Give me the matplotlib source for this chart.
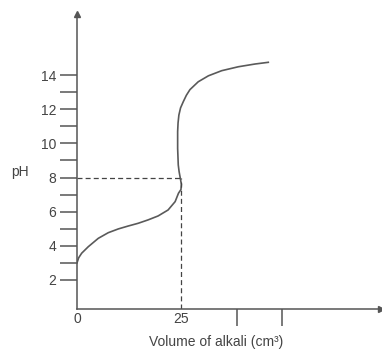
import matplotlib
matplotlib.use("Agg")
import matplotlib.pyplot as plt

plt.rcParams['font.family'] = ['Liberation Sans', 'DejaVu Sans']

# Titration curve (volume in cm3, pH)
volume = [0, 0.4, 1.13, 2.72, 5.12, 7.52, 9.93, 12.3, 14.7, 17.1, 19.5, 21.9,
          23.6, 24.4, 25.0, 25.1, 24.85, 24.55, 24.35, 24.2, 24.2, 24.3, 24.5,
          24.9, 25.55, 26.3, 27.16, 29.15, 31.6, 34.8, 38.8, 42.8, 46.0]
ph = [3.0, 3.3, 3.57, 3.95, 4.44, 4.77, 4.99, 5.16, 5.32, 5.52, 5.75, 6.1,
      6.59, 7.08, 7.3, 7.6, 7.95, 8.35, 8.74, 9.71, 10.69, 11.2, 11.66,
      12.08, 12.44, 12.82, 13.15, 13.61, 13.96, 14.26, 14.49, 14.65, 14.75]

eq_volume = 25
eq_ph = 7.95

y_ticks = [2, 3, 4, 5, 6, 7, 8, 9, 10, 11, 12, 13, 14]
y_labels = ['2', '', '4', '', '6', '', '8', '', '10', '', '12', '', '14']
x_ticks = [0, 25, 38.5, 49.3]
x_labels = ['0', '25', '', '']

fig = plt.figure(figsize=(3.82, 3.52), dpi=100)
ax = fig.add_axes([77/382, 43/352, 304/382, 295/352])

axis_col = '#555555'
ax.plot(volume, ph, color='#5a5a5a', lw=1.2, solid_joinstyle='round')
ax.plot([0, eq_volume], [eq_ph, eq_ph], color='#444444', lw=0.9, ls=(0, (4, 2.5)))
ax.plot([eq_volume, eq_volume], [0.3, eq_ph], color='#444444', lw=0.9, ls=(0, (4, 2.5)))

ax.set_xlim(0, 73.1)
ax.set_ylim(0.3, 17.58)

for s in ['top', 'right']:
    ax.spines[s].set_visible(False)
for s in ['left', 'bottom']:
    ax.spines[s].set_color(axis_col)
    ax.spines[s].set_linewidth(1.1)

ax.plot([0], [1], marker='^', color=axis_col, ms=4, transform=ax.transAxes, clip_on=False)
ax.plot([1], [0], marker='>', color=axis_col, ms=4, transform=ax.transAxes, clip_on=False)

ax.set_yticks(y_ticks)
ax.set_yticklabels(y_labels)
ax.set_xticks(x_ticks)
ax.set_xticklabels(x_labels)
ax.tick_params(axis='y', length=12, width=1.1, color=axis_col, labelsize=10,
               labelcolor='#444444', pad=3)
ax.tick_params(axis='x', length=12, width=1.1, color=axis_col, labelsize=10,
               labelcolor='#444444', pad=-10)
xt = ax.xaxis.get_major_ticks()
xt[0].tick1line.set_visible(False)
xt[1].tick1line.set_visible(False)

fig.text(20/382, 1 - 172/352, 'pH', fontsize=10, color='#444444', ha='center', va='center')
fig.text(216/382, 1 - 342/352, 'Volume of alkali (cm³)', fontsize=10, color='#444444',
         ha='center', va='center')

fig.savefig('out.png', dpi=100)
